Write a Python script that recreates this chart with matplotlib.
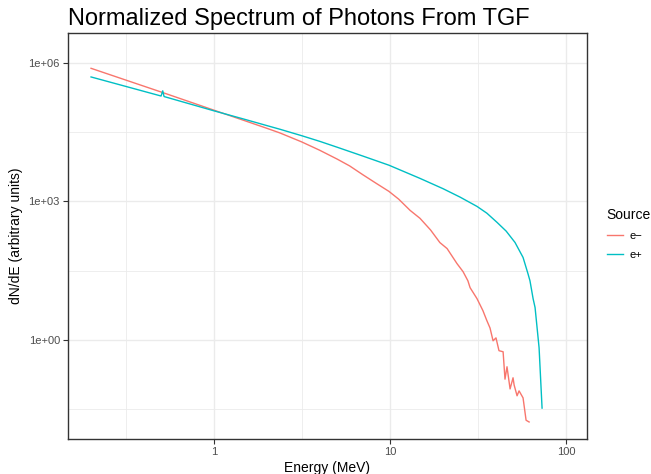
import matplotlib
matplotlib.use("Agg")
import matplotlib.pyplot as plt
from matplotlib.ticker import FixedLocator, FixedFormatter, NullFormatter

plt.rcParams['font.family'] = ['Liberation Sans', 'DejaVu Sans']

# e- source spectrum (energy in MeV, dN/dE)
e_minus_energy = [0.2, 0.51, 1.0, 1.5, 2.0, 2.37, 3.15, 3.98, 5.0, 5.89, 7.0,
                  8.3, 9.86, 11.2, 13.0, 14.8, 17.0, 19.2, 21.1, 24.0, 26.0,
                  27.7, 28.5, 31.2, 33.7, 35.5, 37.0, 38.5, 40.0, 41.6, 43.9,
                  45.0, 46.2, 48.1, 50.0, 50.7, 52.7, 54.1, 57.0, 59.3, 61.7]
e_minus_flux = [7.7e5, 2.3e5, 9.5e4, 5.6e4, 3.84e4, 3.05e4, 1.95e4, 1.29e4,
                8.3e3, 5.9e3, 3.8e3, 2.5e3, 1.65e3, 1.12e3, 640, 430, 240, 128,
                95, 45, 30, 19, 13.5, 7.8, 4.3, 2.6, 1.8, 0.95, 1.1, 0.58,
                0.55, 0.14, 0.26, 0.086, 0.15, 0.105, 0.061, 0.078, 0.055,
                0.018, 0.0165]

# e+ source spectrum, with the 511 keV annihilation spike
e_plus_energy = [0.2, 0.50, 0.511, 0.52, 1.0, 1.5, 2.0, 2.37, 3.16, 4.0, 5.0,
                 7.08, 9.86, 14.8, 20.0, 25.0, 31.2, 35.5, 40.6, 45.7, 51.3,
                 57.0, 60.8, 62.4, 65.0, 66.7, 70.3, 73.1]
e_plus_flux = [5.0e5, 1.93e5, 2.5e5, 1.88e5, 9.2e4, 6.0e4, 4.4e4, 3.67e4,
               2.65e4, 2.0e4, 1.5e4, 9.5e3, 6.1e3, 3.16e3, 1.89e3, 1.24e3,
               780, 556, 350, 227, 129, 61, 27, 19, 7.8, 5.0, 0.67, 0.033]

x_major = [1, 10, 100]
x_minor = [10 ** -0.5, 10 ** 0.5, 10 ** 1.5]
y_major = [1e0, 1e3, 1e6]
y_minor = [10 ** -1.5, 10 ** 1.5, 10 ** 4.5]
y_labels = ["1e+00", "1e+03", "1e+06"]

fig = plt.figure(figsize=(6.51, 4.74), dpi=100)
ax = fig.add_axes([0.1037, 0.0738, 0.798, 0.8566])

ax.plot(e_minus_energy, e_minus_flux, color="#F8766D", lw=1.0, label="e\u2212")
ax.plot(e_plus_energy, e_plus_flux, color="#00BFC4", lw=1.0, label="e+")

ax.set_xscale("log")
ax.set_yscale("log")
ax.set_xlim(0.147, 131.6)
ax.set_ylim(0.00705, 4.49e6)

ax.xaxis.set_major_locator(FixedLocator(x_major))
ax.xaxis.set_major_formatter(FixedFormatter(["1", "10", "100"]))
ax.xaxis.set_minor_locator(FixedLocator(x_minor))
ax.xaxis.set_minor_formatter(NullFormatter())
ax.yaxis.set_major_locator(FixedLocator(y_major))
ax.yaxis.set_major_formatter(FixedFormatter(y_labels))
ax.yaxis.set_minor_locator(FixedLocator(y_minor))
ax.yaxis.set_minor_formatter(NullFormatter())

ax.grid(True, which="major", color="#EBEBEB", lw=1.0)
ax.grid(True, which="minor", color="#EBEBEB", lw=0.6)
ax.set_axisbelow(True)

ax.tick_params(which="major", length=3.5, width=0.8, color="#333333",
               labelcolor="#4D4D4D", labelsize=8, pad=2)
ax.tick_params(which="minor", length=0)
for s in ax.spines.values():
    s.set_color("#333333")
    s.set_linewidth(1.0)

ax.set_xlabel("Energy (MeV)", fontsize=10, labelpad=3)
ax.set_ylabel("dN/dE (arbitrary units)", fontsize=10, labelpad=4)
ax.set_title("Normalized Spectrum of Photons From TGF", fontsize=17, loc="left", pad=6)

leg = ax.legend(title="Source", loc="upper left", bbox_to_anchor=(0.925, 0.57),
                bbox_transform=fig.transFigure, frameon=False, fontsize=8,
                title_fontsize=10, handlelength=1.5, handletextpad=0.6,
                labelspacing=0.8, borderaxespad=0)
leg._legend_box.align = "left"

fig.savefig("out.png", dpi=100)
